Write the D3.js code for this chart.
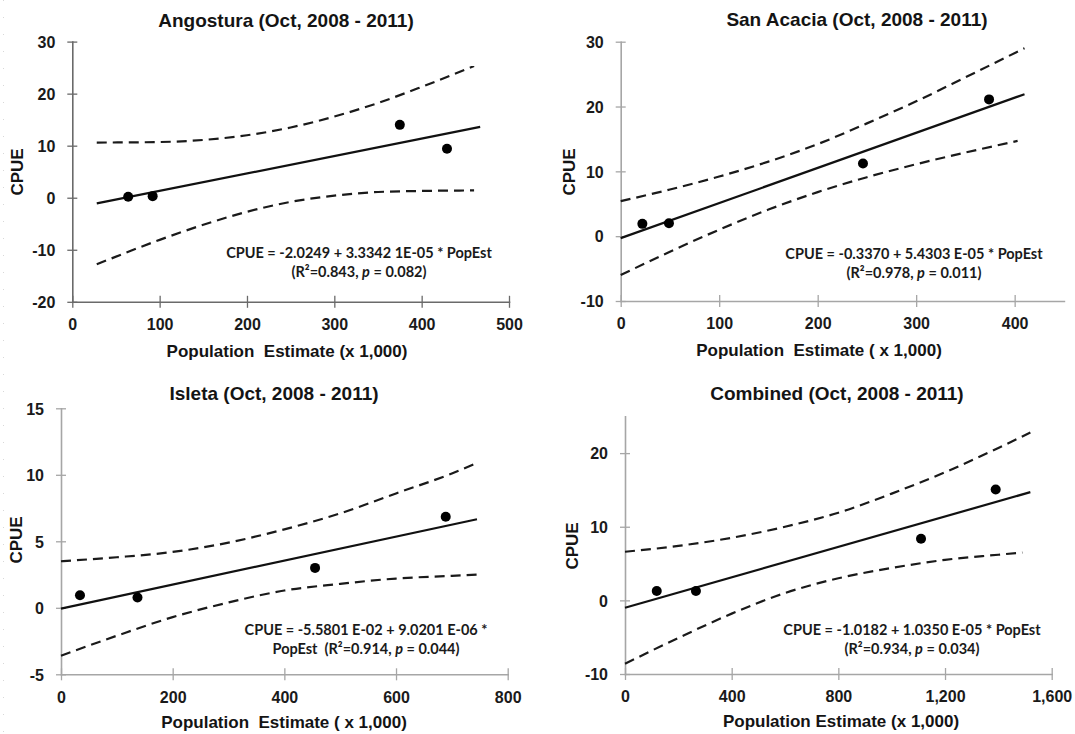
<!DOCTYPE html>
<html>
<head>
<meta charset="utf-8">
<script src="https://cdn.jsdelivr.net/npm/d3@7"></script>
<style>
  html, body { margin: 0; padding: 0; background: #fff; }
  svg { display: block; }
  .title { font-family: "Liberation Sans", Arial, sans-serif; font-weight: bold; font-size: 19px; fill: #141414; }
  .axlab { font-family: "Liberation Sans", Arial, sans-serif; font-weight: bold; font-size: 17px; fill: #141414; white-space: pre; }
  .tick text { font-family: "Liberation Sans", Arial, sans-serif; font-weight: bold; font-size: 16px; fill: #1a1a1a; }
  .eq { font-family: Lato, "Open Sans", sans-serif; font-weight: bold; font-size: 14.5px; fill: #1a1a1a; }
</style>
</head>
<body>
<svg id="chart" width="1075" height="734"></svg>
<script>
// ---------------- DATA ----------------
// Angostura
const angXTicks = [0, 100, 200, 300, 400, 500];
const angYTicks = [-20, -10, 0, 10, 20, 30];
const angPopEst = [64, 92, 375, 429];
const angCPUE = [0.2, 0.3, 14.0, 9.4];
const angFitX = [28, 467];
const angFitY = [-1.1, 13.6];
const angUpperX = [28, 100, 150, 200, 250, 300, 350, 400, 460];
const angUpperY = [10.6, 10.7, 11.1, 12.0, 13.5, 15.6, 18.2, 21.3, 25.3];
const angLowerX = [28, 100, 150, 200, 250, 300, 350, 400, 460];
const angLowerY = [-12.8, -8.1, -5.2, -2.7, -0.8, 0.4, 1.1, 1.3, 1.4];

// San Acacia
const sanXTicks = [0, 100, 200, 300, 400];
const sanYTicks = [-10, 0, 10, 20, 30];
const sanPopEst = [22, 49, 246, 374];
const sanCPUE = [1.9, 2.0, 11.2, 21.1];
const sanFitX = [0, 410];
const sanFitY = [-0.3, 21.9];
const sanUpperX = [0, 50, 100, 150, 200, 250, 300, 350, 410];
const sanUpperY = [5.4, 7.2, 9.2, 11.5, 14.2, 17.4, 20.8, 24.5, 29.0];
const sanLowerX = [0, 50, 100, 150, 200, 250, 300, 350, 403];
const sanLowerY = [-6.0, -2.4, 1.0, 4.1, 6.8, 9.1, 11.1, 12.9, 14.7];

// Isleta
const islXTicks = [0, 200, 400, 600, 800];
const islYTicks = [-5, 0, 5, 10, 15];
const islPopEst = [34, 137, 455, 689];
const islCPUE = [0.95, 0.78, 3.0, 6.84];
const islFitX = [0, 745];
const islFitY = [-0.06, 6.66];
const islUpperX = [0, 100, 200, 300, 400, 500, 600, 700, 740];
const islUpperY = [3.5, 3.8, 4.2, 4.9, 5.9, 7.1, 8.6, 10.1, 10.8];
const islLowerX = [0, 100, 200, 300, 400, 500, 600, 700, 750];
const islLowerY = [-3.6, -2.1, -0.7, 0.4, 1.3, 1.8, 2.2, 2.4, 2.5];

// Combined
const comXTicks = [0, 400, 800, 1200, 1600];
const comYTicks = [-10, 0, 10, 20];
const comPopEst = [119, 266, 1110, 1390];
const comCPUE = [1.27, 1.27, 8.37, 15.07];
const comFitX = [0, 1520];
const comFitY = [-1.0, 14.7];
const comUpperX = [0, 200, 400, 600, 800, 1000, 1200, 1400, 1520];
const comUpperY = [6.6, 7.4, 8.5, 10.0, 11.9, 14.5, 17.4, 20.7, 22.8];
const comLowerX = [0, 200, 400, 600, 800, 1000, 1200, 1400, 1490];
const comLowerY = [-8.6, -5.1, -1.8, 1.0, 3.0, 4.4, 5.5, 6.2, 6.5];

// Text
const titles = ["Angostura (Oct, 2008 - 2011)", "San Acacia (Oct, 2008 - 2011)", "Isleta (Oct, 2008 - 2011)", "Combined (Oct, 2008 - 2011)"];
const xLabels = ["Population  Estimate (x 1,000)", "Population  Estimate ( x 1,000)", "Population  Estimate ( x 1,000)", "Population Estimate (x 1,000)"];
const yLabel = "CPUE";
const eqLine1 = ["CPUE = -2.0249 + 3.3342 1E-05 * PopEst", "CPUE = -0.3370 + 5.4303 E-05 * PopEst", "CPUE = -5.5801 E-02 + 9.0201 E-06 *", "CPUE = -1.0182 + 1.0350 E-05 * PopEst"];
const eqPre = ["(", "(", "PopEst  (", "("];
const eqR2 = ["0.843", "0.978", "0.914", "0.934"];
const eqP = ["0.082", "0.011", "0.044", "0.034"];

// ---------------- LAYOUT ----------------
const zip = (a, b) => a.map((v, i) => [v, b[i]]);
const plain = d => String(d);                       // hyphen-minus like the original
const comma = d => d3.format(",")(d).replace("\u2212", "-");
const panels = [
  { xd: [0, 500], yd: [-20, 30], xr: [72.3, 509], yr: [301.8, 41.6], xt: angXTicks, yt: angYTicks, fmt: plain,
    pts: zip(angPopEst, angCPUE), fit: zip(angFitX, angFitY), up: zip(angUpperX, angUpperY), lo: zip(angLowerX, angLowerY),
    axc: "#6a6a6a", tx: 286, ty: 27, lx: 287, ly: 357, yx: 23, yy: 172, ex: 359, ey: 258 },
  { xd: [0, 450], yd: [-10, 30], xr: [620.7, 1063.9], yr: [301, 41.7], xt: sanXTicks, yt: sanYTicks, fmt: plain,
    pts: zip(sanPopEst, sanCPUE), fit: zip(sanFitX, sanFitY), up: zip(sanUpperX, sanUpperY), lo: zip(sanLowerX, sanLowerY),
    axc: "#a6a6a6", tx: 857, ty: 26, lx: 819, ly: 356, yx: 575, yy: 172, ex: 914, ey: 259 },
  { xd: [0, 800], yd: [-5, 15], xr: [61, 507.7], yr: [674.3, 408.3], xt: islXTicks, yt: islYTicks, fmt: plain,
    pts: zip(islPopEst, islCPUE), fit: zip(islFitX, islFitY), up: zip(islUpperX, islUpperY), lo: zip(islLowerX, islLowerY),
    axc: "#a6a6a6", tx: 274, ty: 400, lx: 284, ly: 728, yx: 22, yy: 540, ex: 366, ey: 635 },
  { xd: [0, 1600], yd: [-10, 25], xr: [625, 1051.7], yr: [674, 416.3], xt: comXTicks, yt: comYTicks, fmt: comma,
    pts: zip(comPopEst, comCPUE), fit: zip(comFitX, comFitY), up: zip(comUpperX, comUpperY), lo: zip(comLowerX, comLowerY),
    axc: "#a6a6a6", tx: 837, ty: 400, lx: 841, ly: 727, yx: 578, yy: 546, ex: 912, ey: 635 }
];

const svg = d3.select("#chart");

// faint dotted page margin at far left
svg.append("line").attr("x1", 3.5).attr("x2", 3.5).attr("y1", 0).attr("y2", 734)
  .attr("stroke", "#d8d8d8").attr("stroke-width", 1).attr("stroke-dasharray", "1,16");

panels.forEach((p, i) => {
  const x = d3.scaleLinear().domain(p.xd).range(p.xr);
  const y = d3.scaleLinear().domain(p.yd).range(p.yr);
  const g = svg.append("g");

  // x axis
  const xa = g.append("g").attr("transform", `translate(0,${p.yr[0]})`)
    .call(d3.axisBottom(x).tickValues(p.xt).tickFormat(p.fmt).tickSizeOuter(0));
  xa.select(".domain").attr("stroke", p.axc).attr("stroke-width", 1.6);
  xa.selectAll(".tick line").attr("y1", -6).attr("y2", 6).attr("stroke", p.axc).attr("stroke-width", 1.3);
  xa.selectAll(".tick text").attr("y", 17).attr("dy", "0.71em");

  // y axis
  const ya = g.append("g").attr("transform", `translate(${p.xr[0]},0)`)
    .call(d3.axisLeft(y).tickValues(p.yt).tickFormat(plain).tickSizeOuter(0));
  ya.select(".domain").attr("stroke", p.axc).attr("stroke-width", 1.6);
  ya.selectAll(".tick line").attr("x1", -5).attr("x2", 5).attr("stroke", p.axc).attr("stroke-width", 1.3);
  ya.selectAll(".tick text").attr("x", -17).attr("dy", "0.36em");
  g.selectAll(".domain").attr("stroke-linecap", "square");

  const line = d3.line().x(d => x(d[0])).y(d => y(d[1]));
  const curve = d3.line().x(d => x(d[0])).y(d => y(d[1])).curve(d3.curveMonotoneX);

  // confidence bands
  [p.up, p.lo].forEach(band => {
    g.append("path").attr("d", curve(band)).attr("fill", "none").attr("stroke", "#1a1a1a")
      .attr("stroke-width", 2.2).attr("stroke-dasharray", "10,6");
  });
  // regression line
  g.append("path").attr("d", line(p.fit)).attr("fill", "none").attr("stroke", "#111").attr("stroke-width", 2.2);

  // points
  g.selectAll("circle.pt").data(p.pts).join("circle").attr("class", "pt")
    .attr("cx", d => x(d[0])).attr("cy", d => y(d[1])).attr("r", 5).attr("fill", "#000");

  // title
  g.append("text").attr("class", "title").attr("x", p.tx).attr("y", p.ty).attr("text-anchor", "middle").text(titles[i]);
  // x label
  g.append("text").attr("class", "axlab").attr("x", p.lx).attr("y", p.ly).attr("text-anchor", "middle").text(xLabels[i]);
  // y label
  g.append("text").attr("class", "axlab").attr("transform", `translate(${p.yx},${p.yy}) rotate(-90)`)
    .attr("text-anchor", "middle").text(yLabel);

  // equation
  g.append("text").attr("class", "eq").attr("x", p.ex).attr("y", p.ey).attr("text-anchor", "middle")
    .style("white-space", "pre").text(eqLine1[i]);
  const t2 = g.append("text").attr("class", "eq").attr("x", p.ex).attr("y", p.ey + 18.5).attr("text-anchor", "middle")
    .style("white-space", "pre");
  t2.append("tspan").text(eqPre[i] + "R²=" + eqR2[i] + ", ");
  t2.append("tspan").attr("font-style", "italic").text("p");
  t2.append("tspan").text(" = " + eqP[i] + ")");
});
</script>
</body>
</html>
